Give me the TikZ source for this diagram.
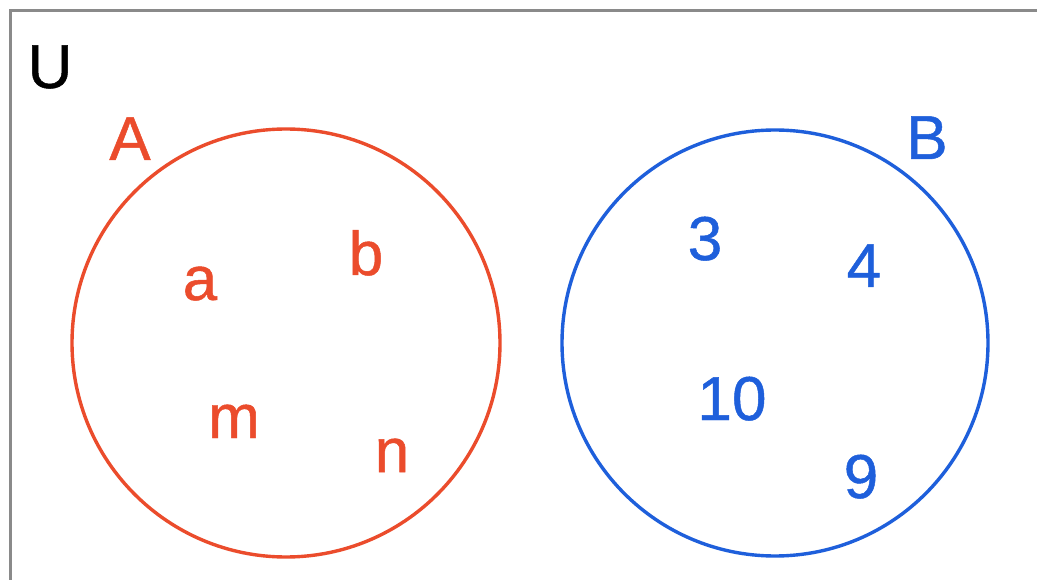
\documentclass[tikz,border=0pt]{standalone}
\usepackage{fontspec}
\setmainfont{Liberation Sans}
\newfontfamily\labelfont{Liberation Sans}[FakeBold=0.8]
\definecolor{setred}{HTML}{EB4C2C}
\definecolor{setblue}{HTML}{1E5FDB}
\definecolor{frame}{HTML}{8A8A8A}
\begin{document}
\begin{tikzpicture}[x=1pt,y=-1pt,
  lbl/.style={anchor=base,inner sep=0pt,font=\labelfont\fontsize{62}{70}\selectfont},
  redlbl/.style={lbl,text=setred},
  bluelbl/.style={lbl,text=setblue},
  setcircle/.style={line width=3.4pt}]
\useasboundingbox (0,0) rectangle (1037,580);
\clip (0,0) rectangle (1037,580);
\fill[white] (0,0) rectangle (1037,580);
\draw[frame,line width=3.4pt] (10.5,10.5) rectangle (1060,600);
\node[lbl] (U) at (50,88) {U};
\draw[setcircle,setred] (286,343) circle (214);
\draw[setcircle,setblue] (775,343) circle (213);
\node[redlbl] (A) at (130,160) {A};
\node[redlbl] (a) at (200,300) {a};
\node[redlbl] (b) at (366,275) {b};
\node[redlbl] (m) at (234,438) {m};
\node[redlbl] (n) at (392,472) {n};
\node[bluelbl] (B) at (927,159) {B};
\node[bluelbl] (three) at (705,260) {3};
\node[bluelbl] (four) at (864,287) {4};
\node[bluelbl] (ten) at (732,420) {10};
\node[bluelbl] (nine) at (861,498) {9};
\end{tikzpicture}
\end{document}
